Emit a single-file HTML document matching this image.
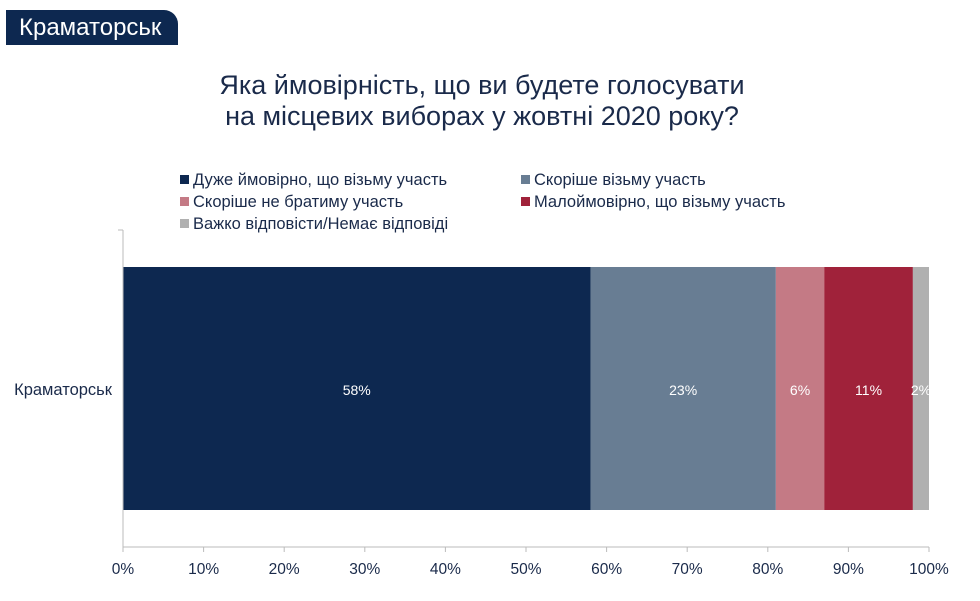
<!DOCTYPE html>
<html><head><meta charset="utf-8"><style>
body{margin:0;width:980px;height:601px;background:#fff;overflow:hidden;font-family:"Liberation Sans","DejaVu Sans",sans-serif;position:relative}
.tag{position:absolute;left:6px;top:10px;width:172px;height:35px;background:#0d2850;border-top-right-radius:14px;color:#fff;font-size:24px;line-height:35px;padding-left:13px;box-sizing:border-box}
.title{position:absolute;left:0;width:964px;top:70px;text-align:center;font-size:27px;color:#1a2a4a;line-height:31px}
.leg{position:absolute;font-size:16.5px;color:#1a2a4a;white-space:nowrap}
.leg span{display:inline-block;width:9px;height:9px;margin-right:4px;vertical-align:1px}
</style></head><body>
<div class="tag">Краматорськ</div>
<div class="title">Яка ймовірність, що ви будете голосувати<br>на місцевих виборах у жовтні 2020 року?</div>
<div class="leg" style="left:180px;top:171px"><span style="background:#0d2850"></span>Дуже ймовірно, що візьму участь</div>
<div class="leg" style="left:521px;top:171px"><span style="background:#687d93"></span>Скоріше візьму участь</div>
<div class="leg" style="left:180px;top:193px"><span style="background:#c47a85"></span>Скоріше не братиму участь</div>
<div class="leg" style="left:521px;top:193px"><span style="background:#a0223a"></span>Малоймовірно, що візьму участь</div>
<div class="leg" style="left:180px;top:215px"><span style="background:#b0b0b0"></span>Важко відповісти/Немає відповіді</div>
<svg id="chart" width="980" height="601" style="position:absolute;left:0;top:0"></svg>
<script>
const categories=["Краматорськ"];
const seriesValues=[58,23,6,11,2];
const seriesColors=["#0d2850","#687d93","#c47a85","#a0223a","#b0b0b0"];
const seriesNames=["very-likely","likely","unlikely","very-unlikely","hard-to-say"];
const tickLabels=["0%","10%","20%","30%","40%","50%","60%","70%","80%","90%","100%"];
const ns="http://www.w3.org/2000/svg",svg=document.getElementById("chart");
const x0=123,x1=929,x=v=>x0+(x1-x0)*v/100;
const barTop=267,barBot=510;
function mk(t,a){const e=document.createElementNS(ns,t);for(const k in a)e.setAttribute(k,a[k]);svg.appendChild(e);return e;}
let cum=0;
seriesValues.forEach((v,i)=>{
 const r=mk("rect",{x:x(cum),y:barTop,width:x(cum+v)-x(cum),height:barBot-barTop,fill:seriesColors[i]});
 
 
 const t=mk("text",{x:(x(cum)+x(cum+v))/2,y:395,"text-anchor":"middle",fill:"#fff","font-size":"14"});
 t.textContent=v+"%";
 
 
 cum+=v;
});
const ya=mk("line",{x1:x0,y1:230,x2:x0,y2:547,stroke:"#bbb"});


const xa=mk("line",{x1:x0,y1:547,x2:x1,y2:547,stroke:"#bbb"});


mk("line",{x1:118,y1:230,x2:x0,y2:230,stroke:"#bbb"});
tickLabels.forEach((l,i)=>{
 const v=i*10;
 mk("line",{x1:x(v),y1:547,x2:x(v),y2:552,stroke:"#bbb"});
 const t=mk("text",{x:x(v),y:574,"text-anchor":"middle",fill:"#1a2a4a","font-size":"15.5"});
 t.textContent=l;
 
 
});
const c=mk("text",{x:112,y:395,"text-anchor":"end",fill:"#1a2a4a","font-size":"16.5"});
c.textContent=categories[0];


</script>
</body></html>
